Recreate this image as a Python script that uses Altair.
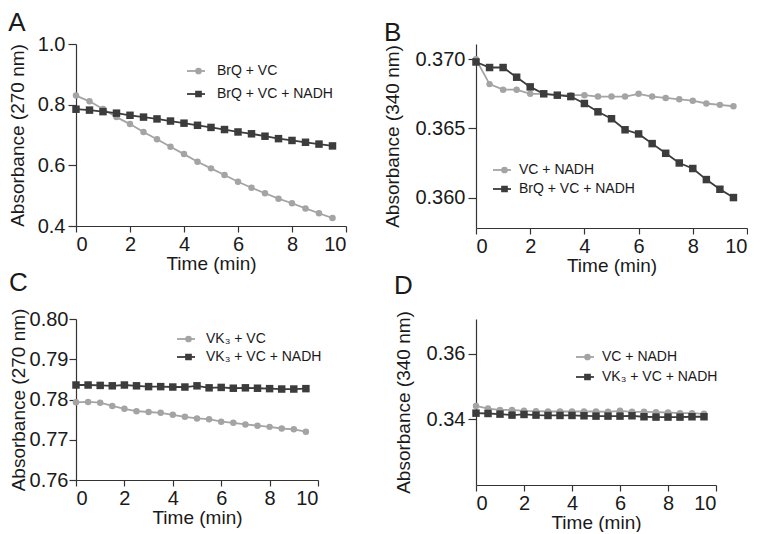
import altair as alt
import pandas as pd

TIME = [0, 0.5, 1, 1.5, 2, 2.5, 3, 3.5, 4, 4.5, 5, 5.5, 6, 6.5, 7, 7.5, 8, 8.5, 9, 9.5]

# Panel A
A_NAMES = ["BrQ + VC", "BrQ + VC + NADH"]
A_S1 = [0.830, 0.811, 0.786, 0.759, 0.736, 0.710, 0.686, 0.661, 0.637, 0.612,
        0.590, 0.568, 0.546, 0.526, 0.508, 0.490, 0.475, 0.458, 0.442, 0.426]
A_S2 = [0.785, 0.782, 0.777, 0.772, 0.765, 0.759, 0.753, 0.746, 0.739, 0.732,
        0.725, 0.718, 0.710, 0.704, 0.696, 0.688, 0.682, 0.676, 0.670, 0.664]

# Panel B
B_NAMES = ["VC + NADH", "BrQ + VC + NADH"]
B_S1 = [0.3700, 0.3682, 0.3678, 0.3678, 0.3675, 0.3675, 0.3674, 0.3674, 0.3674, 0.3673,
        0.3673, 0.3673, 0.3675, 0.3673, 0.3672, 0.3671, 0.3670, 0.3668, 0.3667, 0.3666]
B_S2 = [0.3698, 0.3694, 0.3694, 0.3687, 0.3680, 0.3675, 0.3674, 0.3673, 0.3668, 0.3662,
        0.3657, 0.3649, 0.3646, 0.3639, 0.3632, 0.3625, 0.3621, 0.3613, 0.3606, 0.3600]

# Panel C
C_NAMES = ["VK\u2083 + VC", "VK\u2083 + VC + NADH"]
C_S1 = [0.7793, 0.7794, 0.7792, 0.7784, 0.7777, 0.7771, 0.7769, 0.7767, 0.7762, 0.7757,
        0.7753, 0.7751, 0.7745, 0.7742, 0.7738, 0.7735, 0.7732, 0.7728, 0.7726, 0.7720]
C_S2 = [0.7836, 0.7836, 0.7835, 0.7834, 0.7836, 0.7834, 0.7832, 0.7832, 0.7831, 0.7831,
        0.7834, 0.7829, 0.7830, 0.7828, 0.7829, 0.7828, 0.7827, 0.7826, 0.7826, 0.7827]

# Panel D
D_NAMES = ["VC + NADH", "VK\u2083 + VC + NADH"]
D_S1 = [0.3441, 0.3433, 0.3429, 0.3429, 0.3426, 0.3425, 0.3424, 0.3424, 0.3424, 0.3424,
        0.3424, 0.3423, 0.3426, 0.3423, 0.3423, 0.3422, 0.3421, 0.3419, 0.3419, 0.3417]
D_S2 = [0.3419, 0.3418, 0.3416, 0.3413, 0.3415, 0.3413, 0.3412, 0.3412, 0.3412, 0.3411,
        0.3410, 0.3410, 0.3410, 0.3411, 0.3408, 0.3407, 0.3407, 0.3407, 0.3408, 0.3408]

X_TICKS = [0, 2, 4, 6, 8, 10]

FONT = "Liberation Sans"
LIGHT = "#a4a4a4"
DARK = "#3c3c3c"
TXT = "#1a1a1a"


def panel(letter, names, s1, s2, ydom, yticks, yfmt, ytitle, w, h, tpad,
          line_x, text_x, leg_y, row_gap, toff, tick=8, lpad=3):
    df = pd.DataFrame({
        "t": TIME + TIME,
        "v": s1 + s2,
        "s": [names[0]] * len(TIME) + [names[1]] * len(TIME),
    })
    x = alt.X("t:Q", scale=alt.Scale(domain=[0, 10], nice=False, zero=False),
              axis=alt.Axis(values=X_TICKS, format="d", title="Time (min)"))
    y = alt.Y("v:Q", scale=alt.Scale(domain=ydom, nice=False, zero=False),
              axis=alt.Axis(values=yticks, format=yfmt, title=ytitle, titlePadding=tpad,
                            tickSize=tick, labelPadding=lpad))
    clip = 16
    stroke_leg = alt.Legend(orient="none", legendX=line_x, legendY=leg_y, title=None,
                            values=names, symbolType="stroke", symbolSize=324,
                            symbolStrokeWidth=1.8, labelExpr="''", padding=0,
                            clipHeight=clip, rowPadding=row_gap - clip, labelFontSize=14)
    marker_leg = alt.Legend(orient="none", legendX=line_x + 5.5, legendY=leg_y, title=None,
                            symbolSize=45, symbolStrokeWidth=0, padding=0,
                            labelOffset=text_x - line_x - 5.5 - 7,
                            clipHeight=clip, rowPadding=row_gap - clip,
                            labelFontSize=14, labelFont=FONT, labelColor=TXT)
    base = alt.Chart(df)
    lines = base.mark_line(strokeWidth=1.8).encode(
        x=x, y=y,
        stroke=alt.Stroke("s:N", scale=alt.Scale(domain=[names[1], names[0]], range=[DARK, LIGHT]),
                          legend=stroke_leg),
    )
    pts = base.mark_point(filled=True, opacity=1, strokeWidth=0).encode(
        x=x, y=y,
        fill=alt.Fill("s:N", scale=alt.Scale(domain=names, range=[LIGHT, DARK]), legend=marker_leg),
        shape=alt.Shape("s:N", scale=alt.Scale(domain=names, range=["circle", "square"]), legend=marker_leg),
        size=alt.Size("s:O", scale=alt.Scale(domain=names, range=[42, 56]), legend=None),
    )
    return alt.layer(lines, pts).properties(
        width=w, height=h,
        title=alt.TitleParams(letter, anchor="start", frame="bounds", fontSize=26, font=FONT,
                              fontWeight="normal", color=TXT, offset=toff),
    ).resolve_scale(stroke="independent", fill="independent", shape="independent")


pA = panel("A", A_NAMES, A_S1, A_S2, [0.4, 1.0], [0.4, 0.6, 0.8, 1.0], ".1f",
           "Absorbance (270 nm)", 270, 182, 10, 110, 134, 19, 23, -2)
pB = panel("B", B_NAMES, B_S1, B_S2, [0.3578, 0.3711], [0.360, 0.365, 0.370], ".3f",
           "Absorbance (340 nm)", 271, 184, 12, 16, 36, 118, 19, -2)
pC = panel("C", C_NAMES, C_S1, C_S2, [0.76, 0.80], [0.76, 0.77, 0.78, 0.79, 0.80], ".2f",
           "Absorbance (270 nm)", 242, 161, 1, 100, 123, 12, 18, 12, tick=7, lpad=1)
pD = panel("D", D_NAMES, D_S1, D_S2, [0.32, 0.3706], [0.34, 0.36], ".2f",
           "Absorbance (340 nm)", 240, 166, 13, 99, 119, 30, 20, 12)

RES = dict(x="independent", y="independent", stroke="independent", fill="independent",
           shape="independent", size="independent")

chart = alt.concat(pA, pB, pC, pD, columns=2, spacing={"row": -5, "column": 36}).resolve_scale(
    **RES
).properties(
    padding={"top": 2, "left": 0, "right": 0, "bottom": 0}
).configure_view(stroke=None).configure_axis(
    grid=False, domainColor="#333333", tickColor="#333333", domainWidth=1.2, tickWidth=1.2,
    tickSize=8, labelPadding=3, labelFont=FONT, titleFont=FONT, labelFontSize=20,
    titleFontSize=19, titleFontWeight="normal", labelColor=TXT, titleColor=TXT,
    labelOverlap=False,
).configure_axisX(titlePadding=0, tickSize=6, labelPadding=2)

chart.save("out.html", embed_options={"renderer": "svg", "actions": False})
